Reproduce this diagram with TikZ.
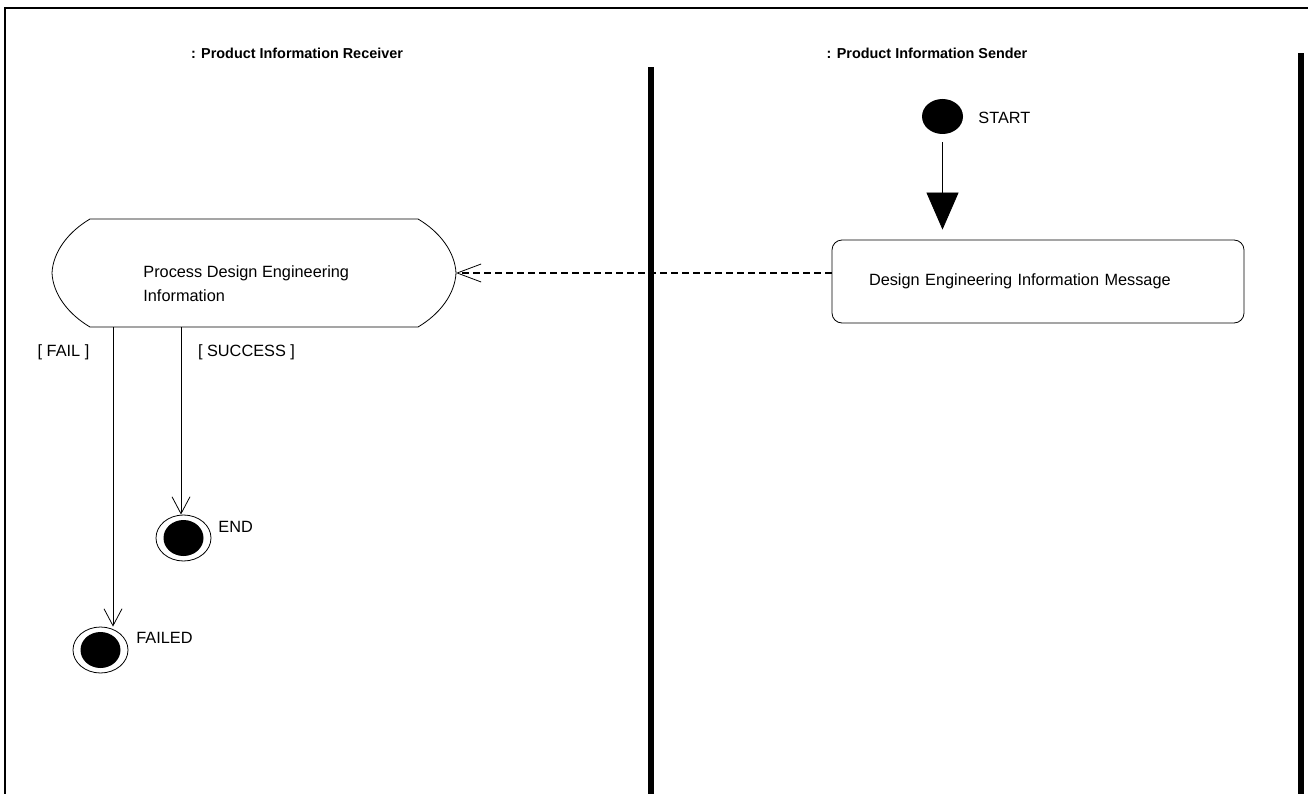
\documentclass[tikz,border=0pt]{standalone}
\usepackage{fontspec}
\setmainfont{Liberation Sans}
\usetikzlibrary{arrows.meta,shapes.geometric}
\tikzset{
  txt/.style={font=\fontsize{16.3}{24}\selectfont, inner sep=0pt},
  lanehead/.style={font=\bfseries\fontsize{14.4}{17}\selectfont, inner sep=0pt},
  flow/.style={-{Straight Barb[length=17pt,width=18pt]}},
  endstate/.style={ellipse, draw, minimum width=55pt, minimum height=46pt, inner sep=0pt},
}
\begin{document}
\begin{tikzpicture}[x=1pt,y=-1pt,line width=0.8pt]
\useasboundingbox (0,0) rectangle (1308,794);
\draw[line width=2.5pt] (5,794) -- (5,8) -- (1308,8);
\fill (648,67) rectangle (654,794);
\fill (1298,53) rectangle (1304,794);
\node[lanehead] (recv) at (297,53) {: Product Information Receiver};
\node[lanehead] (send) at (927,53) {: Product Information Sender};
\node[ellipse, fill, minimum width=41pt, minimum height=35pt, inner sep=0pt] (start) at (942.5,116.5) {};
\node[txt, anchor=west] (startlbl) at (978,118) {START};
\node[draw, rounded corners=10pt, minimum width=412pt, minimum height=83pt, text width=338pt, inner xsep=37pt, align=left, txt] (msg) at (1038,281.5) {Design Engineering Information Message};
\draw[-{Triangle[length=37pt,width=32pt]}, shorten <=8pt, shorten >=10pt] (start) -- (start |- msg.north);
\draw (90,219) -- (418,219) .. controls (440,232) and (455,252) .. (456,273) .. controls (455,294) and (440,314) .. (418,327) -- (90,327) .. controls (68,314) and (53,294) .. (52,273) .. controls (53,252) and (68,232) .. cycle;
\node[txt, anchor=west, align=left] (proc) at (143,284) {Process Design Engineering\\Information};
\coordinate (proc-e) at (456,273);
\coordinate (proc-fail) at (113,327);
\coordinate (proc-ok) at (181,327);
\draw[line width=1.6pt, dash pattern=on 7pt off 4pt, -{Straight Barb[length=24pt,width=18pt,line width=0.8pt]}] (proc-e -| msg.west) -- (proc-e);
\foreach \n/\x/\y in {failed/100.5/650, done/183.5/538} {
  \node[endstate] (\n) at (\x,\y) {};
  \fill (\n.center) ellipse [x radius=20, y radius=18];
}
\node[txt, anchor=west] (failedlbl) at (136,638) {FAILED};
\node[txt, anchor=west] (donelbl) at (218,527) {END};
\draw[flow] (proc-fail) -- (proc-fail |- failed.north);
\draw[flow] (proc-ok) -- (proc-ok |- done.north);
\node[txt] (faillbl) at (63.5,352) {[ FAIL ]};
\node[txt] (oklbl) at (246.5,352) {[ SUCCESS ]};
\end{tikzpicture}
\end{document}
